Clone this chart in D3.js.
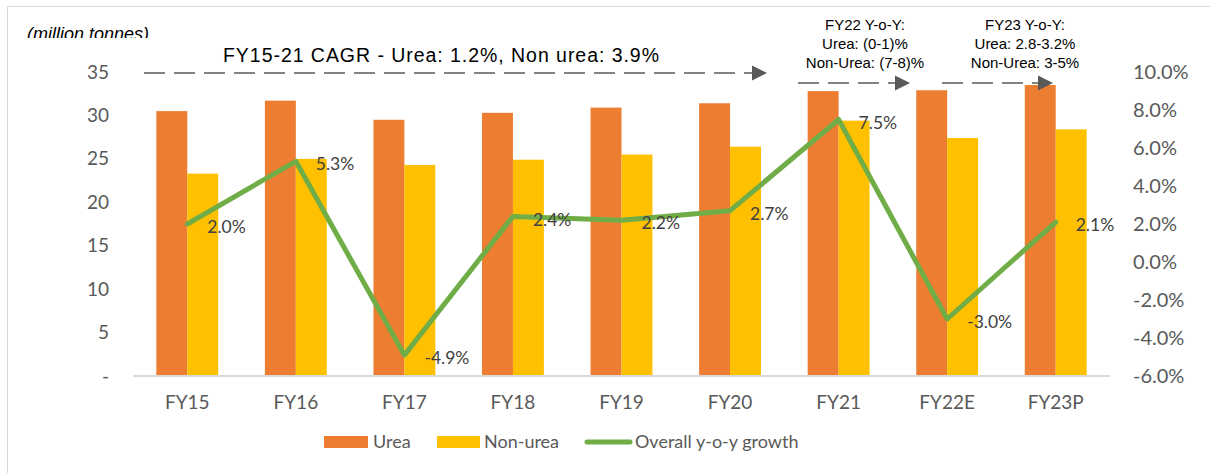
<!DOCTYPE html>
<html><head><meta charset="utf-8">
<script src="https://cdn.jsdelivr.net/npm/d3@7/dist/d3.min.js"></script>
<style>body{margin:0;background:#fff}svg{display:block}</style>
</head><body><svg id="c" width="1210" height="473"></svg>
<script>
const categories = ["FY15","FY16","FY17","FY18","FY19","FY20","FY21","FY22E","FY23P"];
const urea = [30.5, 31.7, 29.5, 30.3, 30.9, 31.4, 32.8, 32.9, 33.5];
const nonUrea = [23.3, 25.0, 24.3, 24.9, 25.5, 26.4, 29.4, 27.4, 28.4];
const growth = [2.0, 5.3, -4.9, 2.4, 2.2, 2.7, 7.5, -3.0, 2.1];
const leftTicks = [0, 5, 10, 15, 20, 25, 30, 35];
const rightTicks = [-6, -4, -2, 0, 2, 4, 6, 8, 10];
const seriesNames = ["Urea", "Non-urea", "Overall y-o-y growth"];
const cagrText = "FY15-21 CAGR - Urea: 1.2%, Non urea: 3.9%";
const fy22Note = ["FY22 Y-o-Y:", "Urea: (0-1)%", "Non-Urea: (7-8)%"];
const fy23Note = ["FY23 Y-o-Y:", "Urea: 2.8-3.2%", "Non-Urea: 3-5%"];
const unitLabel = "(million tonnes)";

const ORANGE = "#ED7D31", YELLOW = "#FFC000", GREEN = "#70AD47";
const AX = "#595959";
const svg = d3.select("#c");
const L = 133, R = 1110, T = 72, B = 376;

svg.append("rect").attr("width",1210).attr("height",473).attr("fill","#fff");
// frame
svg.append("path").attr("d","M7.5,480 V6.5 H1215").attr("fill","none").attr("stroke","#D9D9D9").attr("stroke-width",1);

const x = d3.scaleBand().domain(categories).range([L, R]).paddingInner(0.43).paddingOuter(0.215);
const y = d3.scaleLinear().domain([0, 35]).range([B, T]);
const y2 = d3.scaleLinear().domain([-6, 10]).range([B, T]);
const bw = x.bandwidth() / 2;

const font = "Lato, 'Open Sans', sans-serif";

// left axis
const ya = svg.append("g").attr("transform", `translate(${L},0)`)
  .call(d3.axisLeft(y).tickValues(leftTicks).tickSize(0).tickPadding(24).tickFormat(d => d === 0 ? "-" : d));
ya.select(".domain").remove();
ya.selectAll("text").attr("fill", AX).style("font-family", font).style("font-size", "19px");

// right axis
const yb = svg.append("g").attr("transform", `translate(1133,0)`)
  .call(d3.axisRight(y2).tickValues(rightTicks).tickSize(0).tickPadding(0).tickFormat(d => d.toFixed(1) + "%"));
yb.select(".domain").remove();
yb.selectAll("text").attr("fill", AX).style("font-family", font).style("font-size", "20px");

// bars
const g = svg.append("g");
g.selectAll(".u").data(categories).join("rect")
  .attr("x", d => x(d)).attr("width", bw)
  .attr("y", (d,i) => y(urea[i])).attr("height", (d,i) => y(0) - y(urea[i]))
  .attr("fill", ORANGE);
g.selectAll(".n").data(categories).join("rect")
  .attr("x", d => x(d) + bw).attr("width", bw)
  .attr("y", (d,i) => y(nonUrea[i])).attr("height", (d,i) => y(0) - y(nonUrea[i]))
  .attr("fill", YELLOW);

// baseline
svg.append("line").attr("x1", L).attr("x2", R).attr("y1", B).attr("y2", B)
  .attr("stroke", "#D9D9D9").attr("stroke-width", 2);

// x axis labels
const xa = svg.append("g").attr("transform", `translate(0,${B})`)
  .call(d3.axisBottom(x).tickSize(0).tickPadding(20));
xa.select(".domain").remove();
xa.selectAll("text").attr("fill", AX).style("font-family", font).style("font-size", "19px");

// line
const cx = d => x(d) + x.bandwidth() / 2;
const line = d3.line().x((d,i) => cx(categories[i])).y(d => y2(d));
svg.append("path").datum(growth).attr("d", line)
  .attr("fill", "none").attr("stroke", GREEN).attr("stroke-width", 5)
  .attr("stroke-linejoin", "round").attr("stroke-linecap", "round");

// data labels
svg.append("g").selectAll("text").data(growth).join("text")
  .attr("x", (d,i) => cx(categories[i]) + 20)
  .attr("y", d => y2(d) + 3).attr("dy", "0.35em")
  .attr("fill", "#404040").style("font-family", font).style("font-size", "17.5px")
  .text(d => d.toFixed(1) + "%");

// unit label (clipped at bottom)
svg.append("clipPath").attr("id", "uc").append("rect").attr("x", 0).attr("y", 0).attr("width", 300).attr("height", 38);
svg.append("text").attr("x", 27).attr("y", 40).attr("clip-path", "url(#uc)")
  .attr("fill", "#000").style("font-family", "'Liberation Sans', Arial, sans-serif")
  .style("font-size", "18px").style("font-style", "italic").text(unitLabel);

// arrows
const ann = "'Liberation Sans', Arial, sans-serif";
function arrow(x1, x2, yy) {
  svg.append("line").attr("x1", x1).attr("x2", x2 - 14).attr("y1", yy).attr("y2", yy)
    .attr("stroke", AX).attr("stroke-width", 1.3).attr("stroke-dasharray", "21,9");
  svg.append("path").attr("d", `M${x2},${yy} L${x2-15},${yy-7.5} L${x2-15},${yy+7.5} Z`).attr("fill", AX);
}
svg.append("text").attr("x", 223).attr("y", 55).attr("dy", "0.35em")
  .attr("textLength", 436).attr("lengthAdjust", "spacing")
  .attr("fill", "#000").style("font-family", ann).style("font-size", "19.5px").text(cagrText);
arrow(144, 767, 73);

function note(lines, cxp) {
  svg.append("g").selectAll("text").data(lines).join("text")
    .attr("x", cxp).attr("y", (d,i) => 25 + i * 19).attr("dy", "0.35em")
    .attr("text-anchor", "middle").attr("fill", "#000")
    .style("font-family", ann).style("font-size", "15px").text(d => d);
}
note(fy22Note, 865);
note(fy23Note, 1025);
arrow(798, 910, 83);
arrow(942, 1053, 83);

// legend
const lg = svg.append("g").style("font-family", font).style("font-size", "18px");
lg.append("rect").attr("x", 324).attr("y", 436).attr("width", 44).attr("height", 12).attr("fill", ORANGE);
lg.append("text").attr("x", 373).attr("y", 442).attr("dy", "0.35em").attr("fill", AX).text(seriesNames[0]);
lg.append("rect").attr("x", 437).attr("y", 436).attr("width", 43).attr("height", 12).attr("fill", YELLOW);
lg.append("text").attr("x", 484).attr("y", 442).attr("dy", "0.35em").attr("fill", AX).text(seriesNames[1]);
lg.append("line").attr("x1", 587).attr("x2", 630).attr("y1", 442).attr("y2", 442)
  .attr("stroke", GREEN).attr("stroke-width", 5).attr("stroke-linecap", "round");
lg.append("text").attr("x", 635).attr("y", 442).attr("dy", "0.35em").attr("fill", AX).text(seriesNames[2]);
</script></body></html>
